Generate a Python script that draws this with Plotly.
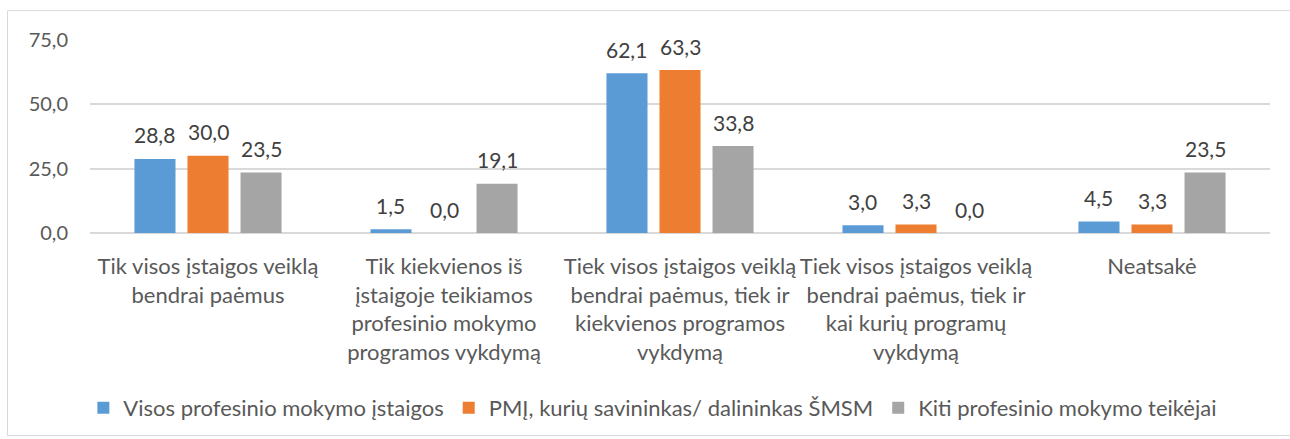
import plotly.graph_objects as go

categories = [
    "Tik visos įstaigos veiklą<br>bendrai paėmus",
    "Tik kiekvienos iš<br>įstaigoje teikiamos<br>profesinio mokymo<br>programos vykdymą",
    "Tiek visos įstaigos veiklą<br>bendrai paėmus, tiek ir<br>kiekvienos programos<br>vykdymą",
    "Tiek visos įstaigos veiklą<br>bendrai paėmus, tiek ir<br>kai kurių programų<br>vykdymą",
    "Neatsakė",
]
series_names = [
    "Visos profesinio mokymo įstaigos",
    "PMĮ, kurių savininkas/ dalininkas ŠMSM",
    "Kiti profesinio mokymo teikėjai",
]
visos = [28.8, 1.5, 62.1, 3.0, 4.5]
pmi = [30.0, 0.0, 63.3, 3.3, 3.3]
kiti = [23.5, 19.1, 33.8, 0.0, 23.5]
colors = ["#5B9BD5", "#ED7D31", "#A5A5A5"]
tick_vals = [0, 25, 50, 75]

FONT = "Lato"
W, H = 1290, 439
ml, mr, mt, mb = 90, 20, 40, 205
pw, ph = W - ml - mr, H - mt - mb
BARGAP, GROUPGAP = 0.326, 0.226
n_series = 3
slot_px = pw / len(categories) * (1 - BARGAP) / n_series


def px2x(p):
    return (p - ml) / pw


def py2y(p):
    return (H - mb - p) / ph


fig = go.Figure()
annotations = []
for i, (name, vals, col) in enumerate(zip(series_names, [visos, pmi, kiti], colors)):
    fig.add_trace(go.Bar(x=categories, y=vals, name=name, marker_color=col, marker_line_width=0))
    for c, v in zip(categories, vals):
        annotations.append(dict(
            x=c, y=v, xref="x", yref="y", text=f"{v:.1f}".replace(".", ","),
            showarrow=False, xshift=(i - 1) * slot_px, yshift=24, yanchor="middle",
            font=dict(family=FONT, size=21, color="#404040"),
        ))

fig.update_layout(
    width=W, height=H,
    margin=dict(l=ml, r=mr, t=mt, b=mb),
    paper_bgcolor="white", plot_bgcolor="white",
    separators=", ",
    barmode="group", bargap=BARGAP, bargroupgap=GROUPGAP,
    font=dict(family=FONT, size=20, color="#595959"),
    showlegend=True,
    legend=dict(orientation="h", x=0.477, xanchor="center", y=py2y(408), yanchor="middle",
                font=dict(family=FONT, size=22, color="#595959"), itemwidth=30,
                traceorder="normal"),
    xaxis=dict(showline=False, ticks="", tickfont=dict(family=FONT, size=22, color="#595959"),
               tickangle=0, automargin=False, ticklabelstandoff=18),
    yaxis=dict(range=[0, 75], tickvals=tick_vals, tickformat=".1f", showgrid=True,
               gridcolor="#D9D9D9", gridwidth=1.5, zeroline=True, zerolinecolor="#D9D9D9",
               zerolinewidth=1.5, ticks="", ticklabelstandoff=21,
               tickfont=dict(family=FONT, size=20, color="#595959"), automargin=False),
    annotations=annotations,
    shapes=[dict(type="rect", xref="paper", yref="paper",
                 x0=px2x(7.5), x1=px2x(1295), y0=py2y(437.5), y1=py2y(10.5),
                 line=dict(color="#D9D9D9", width=1), fillcolor="rgba(0,0,0,0)", layer="below")],
)
fig.write_html("out.html", config={"displayModeBar": False},
               post_script="document.body.style.margin='0';document.body.style.overflow='hidden';")
